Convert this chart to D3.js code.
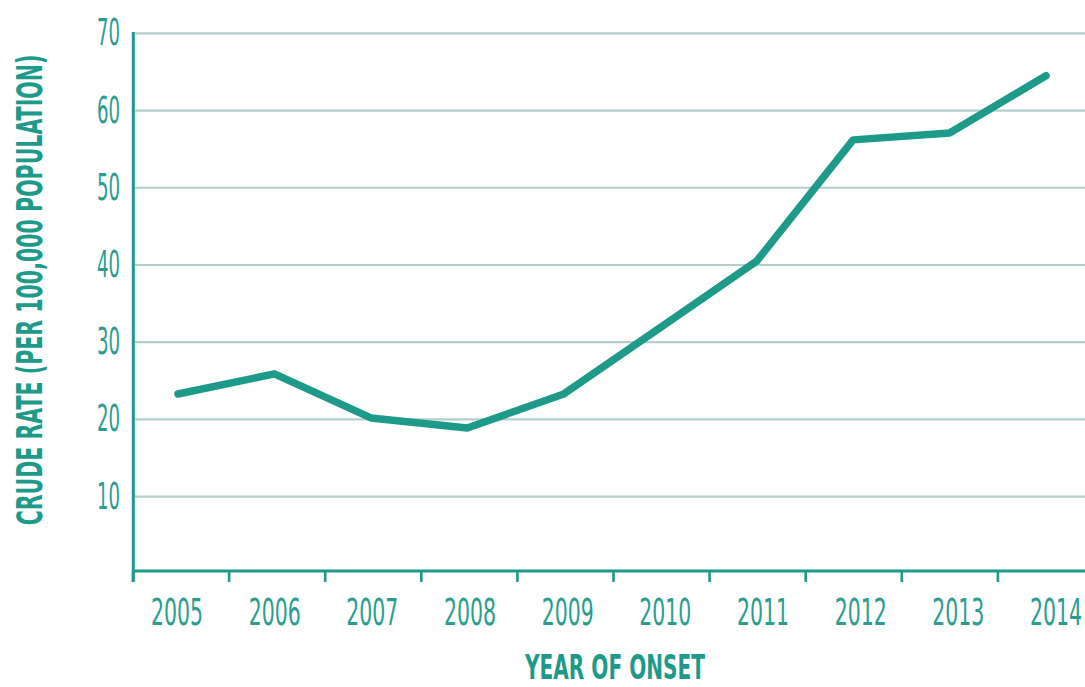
<!DOCTYPE html>
<html><head><meta charset="utf-8">
<script src="https://cdn.jsdelivr.net/npm/d3@7"></script>
<style>body{margin:0;background:#fff}svg{display:block}</style>
</head><body>
<svg id="c" width="1085" height="687"></svg>
<script>
const years = ["2005","2006","2007","2008","2009","2010","2011","2012","2013","2014"];
const rates = [23.3, 25.9, 20.2, 18.9, 23.3, 31.9, 40.5, 56.2, 57.1, 64.5];
const yTicks = [10, 20, 30, 40, 50, 60, 70];
const xTitle = "YEAR OF ONSET";
const yTitle = "CRUDE RATE (PER 100,000 POPULATION)";

const teal = "#1d9a89", tickTeal = "#2a9d8f", grid = "#b2d0cb";
const font = "'Liberation Sans Narrow','DejaVu Sans Condensed',sans-serif";
const svg = d3.select("#c");

const y = d3.scaleLinear().domain([0, 70]).range([573.9, 33.3]);
const xBand = d3.scaleBand().domain(years).range([133, 1094]);
const xPt = d3.scalePoint().domain(years).range([178, 1046]);
const xLab = d3.scalePoint().domain(years).range([177, 1056]);
const axisY = 571;

// gridlines
svg.append("g").selectAll("line").data(yTicks).join("line")
  .attr("x1", 133).attr("x2", 1085)
  .attr("y1", d => y(d)).attr("y2", d => y(d))
  .attr("stroke", grid).attr("stroke-width", 2.2);

// fit helper: scale text horizontally to target width
function fit(sel, w) {
  sel.each(function() {
    const t = d3.select(this);
    const len = this.getComputedTextLength();
    const s = w / len;
    const x = +t.attr("x"), yy = +t.attr("y");
    t.attr("transform", `translate(${x},${yy}) scale(${s},1) translate(${-x},${-yy})`);
  });
}

// y tick labels
const yl = svg.append("g").selectAll("text").data(yTicks).join("text")
  .attr("x", 120).attr("y", d => y(d) + 12)
  .attr("text-anchor", "end")
  .attr("font-family", font).attr("font-size", 37)
  .attr("fill", tickTeal).text(d => d);
yl.each(function(d){ fit(d3.select(this), 23); });

// x axis ticks (band edges)
const edges = years.map(d => xBand(d));
svg.append("g").selectAll("line").data(edges).join("line")
  .attr("x1", d => d).attr("x2", d => d)
  .attr("y1", axisY).attr("y2", axisY + 11)
  .attr("stroke", teal).attr("stroke-width", 2.6);

// axes lines
svg.append("line").attr("x1", 133).attr("x2", 1085).attr("y1", axisY).attr("y2", axisY)
  .attr("stroke", teal).attr("stroke-width", 3);
svg.append("line").attr("x1", 133.3).attr("x2", 133.3).attr("y1", 32).attr("y2", axisY + 11)
  .attr("stroke", teal).attr("stroke-width", 3);

// x tick labels
const xl = svg.append("g").selectAll("text").data(years).join("text")
  .attr("x", d => xLab(d)).attr("y", 625)
  .attr("text-anchor", "middle")
  .attr("font-family", font).attr("font-size", 37)
  .attr("fill", tickTeal).text(d => d);
xl.each(function(){ fit(d3.select(this), 52); });

// line
const line = d3.line().x((d, i) => xPt(years[i])).y(d => y(d));
svg.append("path").datum(rates).attr("d", line)
  .attr("fill", "none").attr("stroke", teal).attr("stroke-width", 7.5)
  .attr("stroke-linecap", "round").attr("stroke-linejoin", "round");

// titles
const xt = svg.append("text").attr("x", 615).attr("y", 679)
  .attr("text-anchor", "middle").attr("font-family", font).attr("font-weight", "bold")
  .attr("font-size", 34).attr("fill", teal).text(xTitle);
fit(xt, 180);

const yt = svg.append("text").attr("x", 0).attr("y", 0)
  .attr("text-anchor", "middle").attr("font-family", font).attr("font-weight", "bold")
  .attr("font-size", 36).attr("fill", teal).text(yTitle);
const ylen = yt.node().getComputedTextLength();
yt.attr("transform", `translate(42,290) rotate(-90) scale(${471 / ylen},1)`);
</script>
</body></html>
